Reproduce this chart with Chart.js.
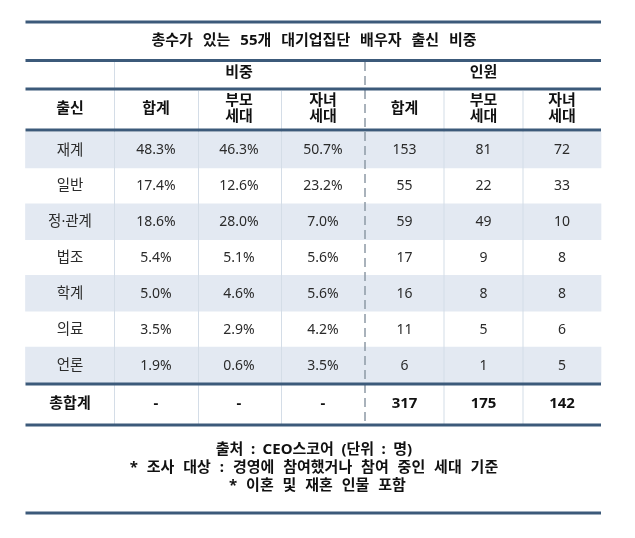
<!DOCTYPE html>
<html lang="ko">
<head>
<meta charset="utf-8">
<title>총수가 있는 55개 대기업집단 배우자 출신 비중</title>
<script src="https://cdn.jsdelivr.net/npm/chart.js@4"></script>
<style>
  html, body { margin: 0; padding: 0; background: #fff; }
  canvas { display: block; }
</style>
</head>
<body>
<canvas id="tableChart" width="635" height="538"></canvas>
<script>
// Table content
const chartTitle = '총수가 있는 55개 대기업집단 배우자 출신 비중';
const categories = ['재계', '일반', '정·관계', '법조', '학계', '의료', '언론'];
const shareTotal = [48.3, 17.4, 18.6, 5.4, 5.0, 3.5, 1.9];
const shareParent = [46.3, 12.6, 28.0, 5.1, 4.6, 2.9, 0.6];
const shareChild = [50.7, 23.2, 7.0, 5.6, 5.6, 4.2, 3.5];
const countTotal = [153, 55, 59, 17, 16, 11, 6];
const countParent = [81, 22, 49, 9, 8, 5, 1];
const countChild = [72, 33, 10, 8, 8, 6, 5];
const sumLabel = '총합계';
const sumRow = ['-', '-', '-', 317, 175, 142];
const groupHeaders = ['비중', '인원'];
const rowHeader = '출신';
const columnHeaders = [['합계'], ['부모', '세대'], ['자녀', '세대'], ['합계'], ['부모', '세대'], ['자녀', '세대']];
const footnotes = ['출처 : CEO스코어 (단위 : 명)', '* 조사 대상 : 경영에 참여했거나 참여 중인 세대 기준', '* 이혼 및 재혼 인물 포함'];

// Layout, in page pixels
const TABLE_LEFT = 25.5, TABLE_RIGHT = 601;
const columnCenters = [70, 156, 239, 323, 404.5, 483.5, 562];
const columnLines = [114.5, 198.5, 281.5, 444, 523];
const DIVIDER_X = 365;
const footnoteX = [314, 314, 317.5];
const footnoteSpacing = [3.6, 5, 5];
const FONT = '"Noto Sans", "Noto Sans CJK KR", sans-serif';
const NAVY = '#3c5a7a';

function drawText(ctx, text, x, y, bold, size, spacing) {
    ctx.font = (bold ? 'bold ' : '') + size + 'px ' + FONT;
    ctx.fillStyle = bold ? '#111' : '#2b2b2b';
    ctx.textAlign = 'center';
    ctx.textBaseline = 'middle';
    ctx.wordSpacing = (spacing || 0) + 'px';
    ctx.fillText(text, x, y);
    ctx.wordSpacing = '0px';
}

function hLine(ctx, y, x0, x1) {
    ctx.fillStyle = NAVY;
    ctx.fillRect(x0, y - 1.5, x1 - x0, 3);
}

// Draws rules and all cell text on top of the row bands
const tablePlugin = {
    id: 'tablePlugin',
    afterDatasetsDraw(chart) {
        const ctx = chart.ctx;
        const x = chart.scales.x, y = chart.scales.y;
        const px = i => x.getPixelForValue(columnCenters[i]);
        ctx.save();

        // vertical rules
        ctx.fillStyle = '#d4dde7';
        columnLines.forEach(v => {
            const top = v === columnLines[0] ? 62 : 91;
            ctx.fillRect(x.getPixelForValue(v) - 0.5, top, 1, 425 - top);
        });

        // dashed divider
        ctx.strokeStyle = '#8d99a5';
        ctx.lineWidth = 1.5;
        ctx.setLineDash([9, 5]);
        ctx.beginPath();
        ctx.moveTo(x.getPixelForValue(DIVIDER_X), 62);
        ctx.lineTo(x.getPixelForValue(DIVIDER_X), 424);
        ctx.stroke();
        ctx.setLineDash([]);

        // horizontal rules
        [22, 60.5, 89, 130, 384, 425, 513].forEach(v => hLine(ctx, v, TABLE_LEFT, TABLE_RIGHT));

        // title and headers
        drawText(ctx, chartTitle, 314, 41, true, 15, 6);
        drawText(ctx, groupHeaders[0], px(2), 73, true, 15);
        drawText(ctx, groupHeaders[1], px(5), 73, true, 15);
        drawText(ctx, rowHeader, px(0), 109, true, 15);
        columnHeaders.forEach((lines, i) => {
            if (lines.length === 1) drawText(ctx, lines[0], px(i + 1), 109, true, 15);
            else lines.forEach((t, k) => drawText(ctx, t, px(i + 1), 100.5 + k * 16, true, 15));
        });

        // body rows
        const percent = v => v.toFixed(1) + '%';
        categories.forEach((name, r) => {
            const ry = y.getPixelForValue(r) + 0.5;
            drawText(ctx, name, px(0), ry, false, 14.5);
            drawText(ctx, percent(shareTotal[r]), px(1), ry, false, 14);
            drawText(ctx, percent(shareParent[r]), px(2), ry, false, 14);
            drawText(ctx, percent(shareChild[r]), px(3), ry, false, 14);
            drawText(ctx, String(countTotal[r]), px(4), ry, false, 14);
            drawText(ctx, String(countParent[r]), px(5), ry, false, 14);
            drawText(ctx, String(countChild[r]), px(6), ry, false, 14);
        });

        // total row
        drawText(ctx, sumLabel, px(0), 403.5, true, 15);
        sumRow.forEach((v, i) => drawText(ctx, String(v), px(i + 1), 404, true, 15));

        // notes
        footnotes.forEach((t, i) => drawText(ctx, t, footnoteX[i], 450 + i * 17.8, true, 15, footnoteSpacing[i]));
        ctx.restore();
    }
};

new Chart(document.getElementById('tableChart').getContext('2d'), {
    type: 'bar',
    data: {
        labels: categories,
        datasets: [{
            data: categories.map(() => [TABLE_LEFT, TABLE_RIGHT]),
            backgroundColor: categories.map((c, i) => i % 2 === 0 ? '#e3e9f2' : 'rgba(0,0,0,0)'),
            borderWidth: 0,
            categoryPercentage: 1,
            barPercentage: 1
        }]
    },
    options: {
        indexAxis: 'y',
        responsive: false,
        animation: false,
        devicePixelRatio: 1,
        layout: { padding: { top: 132, bottom: 155, left: 0, right: 0 } },
        plugins: { legend: { display: false }, tooltip: { enabled: false } },
        scales: {
            x: { type: 'linear', min: 0, max: 635, display: false },
            y: { type: 'category', display: false }
        }
    },
    plugins: [tablePlugin]
});
</script>
</body>
</html>
